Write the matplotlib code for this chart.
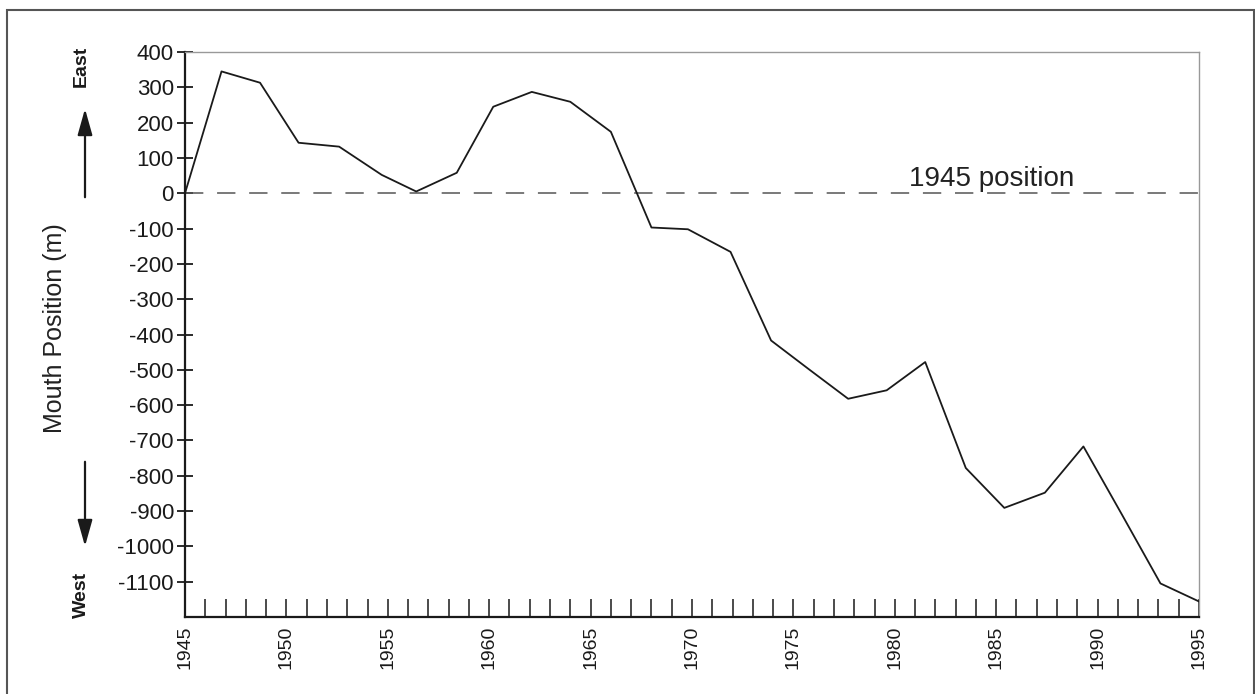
import numpy as np
import matplotlib.pyplot as plt
from matplotlib.patches import Rectangle, FancyArrowPatch

plt.rcParams['font.family'] = ['Liberation Sans', 'DejaVu Sans']
plt.rcParams['axes.unicode_minus'] = False

years = [1945, 1946.8, 1948.7, 1950.6, 1952.6, 1954.7, 1956.4, 1958.4, 1960.2,
         1962.1, 1964.0, 1966.0, 1968.0, 1969.8, 1971.9, 1973.9, 1975.8, 1977.7,
         1979.6, 1981.5, 1983.5, 1985.4, 1987.4, 1989.3, 1991.2, 1993.1, 1995.0]
position = [0, 345, 313, 143, 132, 52, 5, 58, 245,
            287, 259, 174, -97, -102, -166, -417, -500, -582,
            -558, -478, -778, -891, -848, -717, -910, -1105, -1156]

yticks = list(range(-1100, 401, 100))
xticks = list(range(1945, 1996, 5))

fig = plt.figure(figsize=(12.55, 6.94), dpi=100)
ax = fig.add_axes([185/1255, 1 - 617/694, (1199-185)/1255, (617-52)/694])

# outer frame
fig.patches.append(Rectangle((7/1255, -0.02), 1247/1255, 1.02 - 9.5/694,
                             transform=fig.transFigure, fill=False,
                             edgecolor='#555555', linewidth=1.5))

ax.plot(years, position, color='#1a1a1a', linewidth=1.3, zorder=3)
ax.axhline(0, color='#555555', linewidth=1.1, dashes=(12, 9), zorder=2)
ax.text(1980.7, 3, '1945 position', fontsize=20, color='#222222',
        ha='left', va='bottom')

ax.set_xlim(1945, 1995)
ax.set_ylim(-1200, 400)
ax.set_yticks(yticks)
ax.set_xticks(xticks)
ax.set_xticks(range(1945, 1996), minor=True)
ax.set_xticklabels([str(x) for x in xticks], rotation=90)

ax.tick_params(axis='y', direction='inout', length=12, width=1.3,
               labelsize=16, pad=2, colors='#1a1a1a')
ax.tick_params(axis='x', which='both', direction='in', length=13, width=1.1,
               labelsize=14, pad=6, colors='#1a1a1a')

for s in ['left', 'bottom']:
    ax.spines[s].set_linewidth(1.6)
    ax.spines[s].set_color('#1a1a1a')
for s in ['top', 'right']:
    ax.spines[s].set_linewidth(1.0)
    ax.spines[s].set_color('#999999')

# y axis label with direction arrows
fig.text(55/1255, 1 - 328/694, 'Mouth Position (m)', rotation=90,
         ha='center', va='center', fontsize=18, color='#222222')
fig.text(81/1255, 1 - 66/694, 'East', rotation=90, ha='center', va='center',
         fontsize=14, fontweight='bold', color='#1a1a1a')
fig.text(81/1255, 1 - 595/694, 'West', rotation=90, ha='center', va='center',
         fontsize=14, fontweight='bold', color='#1a1a1a')
for y0, y1 in [(200, 106), (459, 549)]:
    fig.patches.append(FancyArrowPatch(
        (85/1255, 1 - y0/694), (85/1255, 1 - y1/694), transform=fig.transFigure,
        arrowstyle='-|>,head_length=16,head_width=4.5', color='#1a1a1a',
        linewidth=1.6, mutation_scale=1))

fig.savefig('out.png', dpi=100)
